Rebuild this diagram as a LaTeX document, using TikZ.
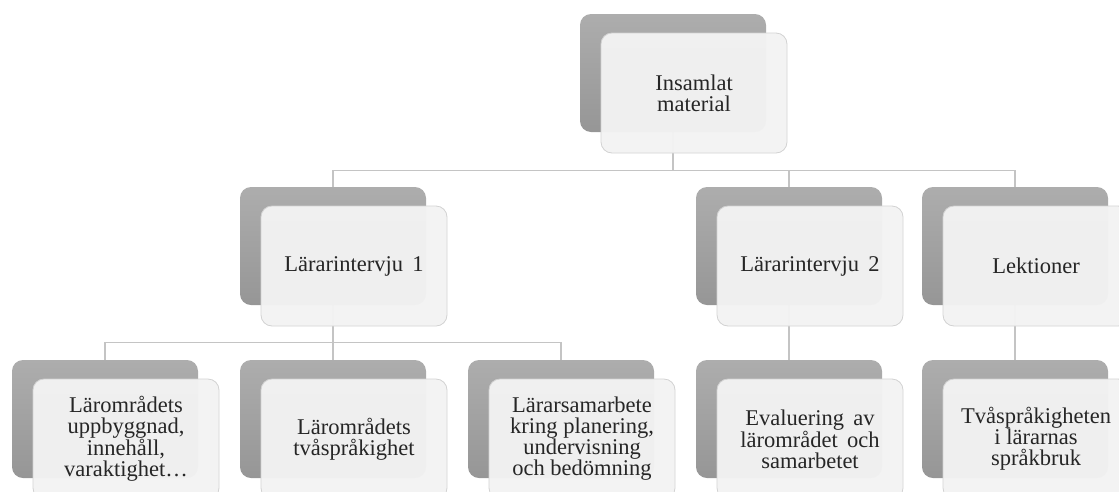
\documentclass[tikz,border=0pt]{standalone}
\usepackage{fontspec}
\setmainfont{Liberation Serif}
\usetikzlibrary{backgrounds,calc}
\definecolor{backt}{HTML}{ADADAD}
\definecolor{backb}{HTML}{969696}
\definecolor{frontc}{HTML}{F3F3F3}
\definecolor{frontb}{HTML}{D2D2D2}
\definecolor{connc}{HTML}{C4C4C4}
\definecolor{txtc}{HTML}{262626}
\begin{document}
\begin{tikzpicture}[x=1pt,y=-1pt,
  backbox/.style={minimum width=186pt,minimum height=118pt,inner sep=0pt,
    rounded corners=11pt,top color=backt,bottom color=backb,draw=none},
  frontbox/.style={minimum width=186pt,minimum height=120pt,inner sep=0pt,
    rounded corners=11pt,fill=frontc,fill opacity=0.96,draw=frontb,
    line width=0.8pt,text opacity=1,text=txtc,align=center,
    font=\fontsize{22.5}{21}\selectfont},
  conn/.style={draw=connc,line width=1.2pt}]
\useasboundingbox (0,0) rectangle (1119,491);
\clip (0,0) rectangle (1119,491);
% level 1
\node[backbox] (top) at (673,73) {};
\node[frontbox] (topf) at (694,93) {Insamlat\\material};
% level 2
\node[backbox] (L1) at (333,246) {};
\node[frontbox] (L1f) at (354,266) {Lärarintervju\ \,1};
\node[backbox] (L2) at (789,246) {};
\node[frontbox] (L2f) at (810,266) {Lärarintervju\ \,2};
\node[backbox] (Lek) at (1015,246) {};
\node[frontbox] (Lekf) at (1036,266) {Lektioner};
% level 3
\node[backbox] (C1) at (105,419) {};
\node[frontbox] (C1f) at (126,439) {Lärområdets\\uppbyggnad,\\innehåll,\\varaktighet…};
\node[backbox] (C2) at (333,419) {};
\node[frontbox] (C2f) at (354,439) {Lärområdets\\tvåspråkighet};
\node[backbox] (C3) at (561,419) {};
\node[frontbox] (C3f) at (582,439) {Lärarsamarbete\\kring planering,\\undervisning\\och bedömning};
\node[backbox] (C4) at (789,419) {};
\node[frontbox] (C4f) at (810,439) {Evaluering\ \,av\\lärområdet\ \,och\\samarbetet};
\node[backbox] (C5) at (1015,419) {};
\node[frontbox] (C5f) at (1036,439) {Tvåspråkigheten\\i lärarnas\\språkbruk};
\begin{scope}[on background layer]
\draw[conn] (top.south) -- ++(0,38) -| (L1.north);
\draw[conn] (top.south) -- ++(0,38) -| (L2.north);
\draw[conn] (top.south) -- ++(0,38) -| (Lek.north);
\draw[conn] (L1.south) -- ++(0,37) -| (C1.north);
\draw[conn] (L1.south) -- ++(0,37) -| (C2.north);
\draw[conn] (L1.south) -- ++(0,37) -| (C3.north);
\draw[conn] (L2.south) -- (C4.north);
\draw[conn] (Lek.south) -- (C5.north);
\end{scope}
\end{tikzpicture}
\end{document}
